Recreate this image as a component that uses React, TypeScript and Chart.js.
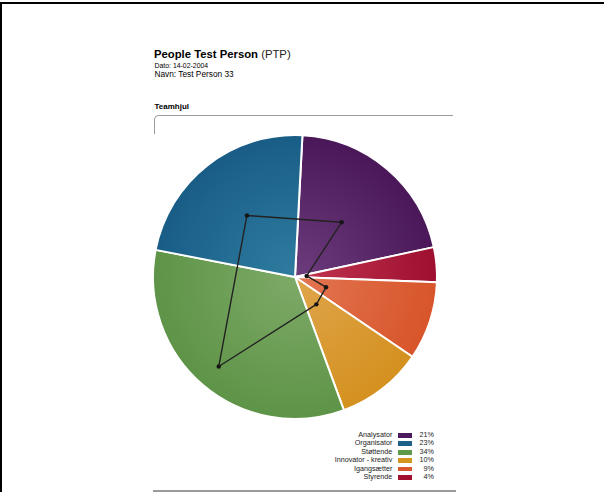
import React, { useEffect, useRef } from 'react';
import { Chart, registerables } from 'chart.js';

Chart.register(...registerables);

const categories = ['Analysator', 'Organisator', 'Støttende', 'Innovator - kreativ', 'Igangsætter', 'Styrende'];
const shares = [21, 23, 34, 10, 9, 4];
const shareLabels = ['21%', '23%', '34%', '10%', '9%', '4%'];
const profileScores = [20.9, 22.7, 34.2, 10.1, 9.5, 3.4];
const profileMax = 41;
// clockwise drawing order of the wheel (indices into categories)
const pieOrder = [0, 5, 4, 3, 2, 1];
const innerColors = ['#6c3c7c', '#2f7ca0', '#7eaa68', '#e0a54c', '#e27652', '#c23650'];
const outerColors = ['#4a1858', '#195d86', '#5e9447', '#d4911f', '#d8552a', '#9e0f30'];
const swatchColors = ['#4b1a5e', '#1d6189', '#5f9a4a', '#d4961f', '#d9592e', '#a3102f'];

const FONT = '"Liberation Sans", Arial, sans-serif';
const PIE_R = 142;

const profilePlugin = {
  id: 'profileLine',
  afterDatasetsDraw(chart: any) {
    const meta = chart.getDatasetMeta(0);
    const pts = meta.data.map((arc: any, k: number) => {
      const p = arc.getProps(['x', 'y', 'startAngle', 'endAngle', 'outerRadius'], true);
      const mid = (p.startAngle + p.endAngle) / 2;
      const r = (profileScores[pieOrder[k]] / profileMax) * (p.outerRadius - 1);
      return [p.x + Math.cos(mid) * r, p.y + Math.sin(mid) * r];
    });
    const c = chart.ctx;
    c.save();
    c.beginPath();
    pts.forEach((pt: number[], i: number) => (i === 0 ? c.moveTo(pt[0], pt[1]) : c.lineTo(pt[0], pt[1])));
    c.closePath();
    c.strokeStyle = '#222';
    c.lineWidth = 1.4;
    c.lineJoin = 'round';
    c.stroke();
    c.fillStyle = '#151515';
    pts.forEach((pt: number[]) => {
      c.beginPath();
      c.arc(pt[0], pt[1], 2.2, 0, Math.PI * 2);
      c.fill();
    });
    c.restore();
  },
};

function Wheel() {
  const ref = useRef<HTMLCanvasElement>(null);
  useEffect(() => {
    if (!ref.current) return;
    const chart = new Chart(ref.current, {
      type: 'pie',
      data: {
        labels: pieOrder.map((i) => categories[i]),
        datasets: [
          {
            data: pieOrder.map((i) => shares[i]),
            borderColor: '#ffffff',
            borderWidth: 2,
            backgroundColor: (ctx: any) => {
              const i = pieOrder[ctx.dataIndex ?? 0];
              const chart = ctx.chart;
              const area = chart.chartArea;
              if (!area) return outerColors[i];
              const cx = (area.left + area.right) / 2;
              const cy = (area.top + area.bottom) / 2;
              const g = chart.ctx.createRadialGradient(cx, cy, 0, cx, cy, PIE_R);
              g.addColorStop(0, innerColors[i]);
              g.addColorStop(1, outerColors[i]);
              return g;
            },
          },
        ],
      },
      options: {
        animation: false,
        responsive: false,
        events: [],
        rotation: 3,
        radius: PIE_R,
        layout: { padding: 0 },
        plugins: { legend: { display: false }, tooltip: { enabled: false } },
      } as any,
      plugins: [profilePlugin],
    });
    return () => chart.destroy();
  }, []);
  return (
    <canvas
      ref={ref}
      width={300}
      height={300}
      style={{ position: 'absolute', left: 145, top: 127, width: 300, height: 300 }}
    />
  );
}

export default function App() {
  const abs = (s: any) => ({ position: 'absolute', fontFamily: FONT, whiteSpace: 'nowrap', color: '#000', ...s });
  return (
    <div style={{ position: 'fixed', left: 0, top: 0, width: 604, height: 492, overflow: 'hidden', background: '#fff' }}>
      <div style={{ position: 'absolute', left: 0, top: 2, width: 700, height: 600, borderTop: '2px solid #000', borderLeft: '2px solid #000' }} />
      <div style={abs({ left: 154, top: 49.4, fontSize: 11.3, lineHeight: '11.3px', fontWeight: 'bold' })}>
        People Test Person <span style={{ fontWeight: 'normal', color: '#222' }}>(PTP)</span>
      </div>
      <div style={abs({ left: 154.5, top: 61.8, fontSize: 6.9, lineHeight: '7px' })}>Dato: 14-02-2004</div>
      <div style={abs({ left: 154.5, top: 70.2, fontSize: 8.3, lineHeight: '8.3px' })}>Navn: Test Person 33</div>
      <div style={abs({ left: 154.5, top: 103, fontSize: 8, lineHeight: '8px', fontWeight: 'bold' })}>Teamhjul</div>
      <div
        style={{
          position: 'absolute',
          left: 154,
          top: 115,
          width: 298,
          height: 18,
          borderTop: '1.5px solid #9c9c9c',
          borderLeft: '1.5px solid #9c9c9c',
          borderTopLeftRadius: 5,
        }}
      />
      <Wheel />
      <div style={{ position: 'absolute', left: 300, top: 431.1, fontFamily: FONT, fontSize: 7.2 }}>
        {categories.map((name, i) => (
          <div key={name} style={{ position: 'relative', height: 8.4, lineHeight: '8.4px', color: '#222' }}>
            <div style={{ position: 'absolute', right: -92.3, width: 120, textAlign: 'right', top: 0 }}>{name}</div>
            <div
              style={{
                position: 'absolute',
                left: 98,
                top: 1.9,
                width: 14,
                height: 4.8,
                background: swatchColors[i],
              }}
            />
            <div style={{ position: 'absolute', left: 114, width: 20, textAlign: 'right', top: 0 }}>{shareLabels[i]}</div>
          </div>
        ))}
      </div>
      <div style={{ position: 'absolute', left: 153, top: 489.5, width: 303, height: 2, background: '#9a9a9a' }} />
    </div>
  );
}
